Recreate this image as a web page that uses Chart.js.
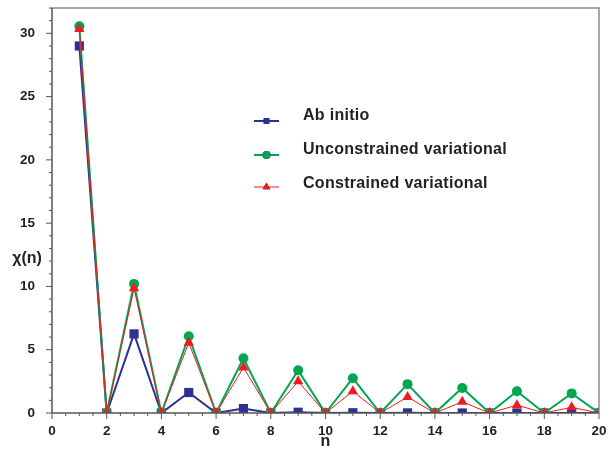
<!DOCTYPE html>
<html><head><meta charset="utf-8">
<script src="https://cdn.jsdelivr.net/npm/chart.js@4"></script>
<style>html,body{margin:0;padding:0;background:#fff}#wrap{width:613px;height:449px}</style>
</head><body><div id="wrap"><canvas id="c" width="613" height="449"></canvas></div>
<script>
const nValues = [1,2,3,4,5,6,7,8,9,10,11,12,13,14,15,16,17,18,19,20];
const abInitio = [29.0,0,6.25,0,1.62,0,0.35,0,0.06,0,0.02,0,0.01,0,0,0,0,0,0,0];
const unconstrained = [30.55,0,10.2,0,6.07,0,4.33,0,3.37,0,2.75,0,2.28,0,1.98,0,1.72,0,1.55,0];
const constrained = [30.35,0,9.85,0,5.55,0,3.6,0,2.5,0,1.72,0,1.26,0,0.88,0,0.62,0,0.45,0];
const seriesNames = ['Ab initio','Unconstrained variational','Constrained variational'];
const xTicks = [0,2,4,6,8,10,12,14,16,18,20];
const yTicks = [0,5,10,15,20,25,30];

const BLUE='#2e3192', GREEN='#00a651', RED='#ed1c24';
const FONT='"Liberation Sans", Arial, sans-serif';
function pts(arr){return nValues.map((n,i)=>({x:n,y:arr[i]}));}

const extras = {
  id:'extras',
  afterDraw(chart){
    const ctx=chart.ctx, a=chart.chartArea, xs=chart.scales.x, ys=chart.scales.y;
    ctx.save();
    ctx.strokeStyle='#8a8a8a'; ctx.lineWidth=1.5;
    ctx.beginPath(); ctx.moveTo(a.left,a.top); ctx.lineTo(a.right,a.top); ctx.lineTo(a.right,a.bottom); ctx.stroke();
    ctx.strokeStyle='#555'; ctx.lineWidth=1.5;
    ctx.beginPath(); ctx.moveTo(a.left,a.top); ctx.lineTo(a.left,a.bottom); ctx.lineTo(a.right,a.bottom); ctx.stroke();
    ctx.lineWidth=1;
    for(let v=0; v<=32; v++){
      const y=ys.getPixelForValue(v); const len = v%5===0?6:3;
      ctx.beginPath(); ctx.moveTo(a.left-len,y); ctx.lineTo(a.left,y); ctx.stroke();
    }
    for(let v=0; v<=20; v+=0.5){
      const x=xs.getPixelForValue(v); const len = v%2===0?6:3;
      ctx.beginPath(); ctx.moveTo(x,a.bottom); ctx.lineTo(x,a.bottom+len); ctx.stroke();
    }
    ctx.fillStyle='#222'; ctx.font='bold 16px '+FONT; ctx.textAlign='center'; ctx.textBaseline='middle';
    ctx.fillText('χ(n)', 27, 259);
    ctx.fillText('n', (a.left+a.right)/2, 442);
    const rows=[{t:116,l:121},{t:150,l:155},{t:184,l:187}];
    [0,1,2].forEach((di,k)=>{
      const ds=chart.data.datasets[di];
      ctx.strokeStyle=ds.borderColor; ctx.lineWidth=ds.borderWidth;
      ctx.beginPath(); ctx.moveTo(254,rows[k].l); ctx.lineTo(279,rows[k].l); ctx.stroke();
      Chart.helpers.drawPoint(ctx,{pointStyle:ds.pointStyle,radius:ds.legendRadius,borderWidth:0,rotation:0},266.5,rows[k].l);
      ctx.fillStyle=ds.backgroundColor; ctx.fill();
      ctx.fillStyle='#222'; ctx.font='bold 16px '+FONT; ctx.textAlign='left'; ctx.textBaseline='middle';
      ctx.letterSpacing='0.3px';
      ctx.fillText(ds.label,303,rows[k].t);
      ctx.letterSpacing='0px';
    });
    ctx.restore();
  }
};

new Chart(document.getElementById('c'),{
  type:'line',
  data:{datasets:[
    {label:seriesNames[0],data:pts(abInitio),borderColor:BLUE,backgroundColor:BLUE,borderWidth:2,pointStyle:'rect',pointRadius:6.5,pointBorderWidth:0,legendRadius:4,order:2},
    {label:seriesNames[1],data:pts(unconstrained),borderColor:GREEN,backgroundColor:GREEN,borderWidth:2,pointStyle:'circle',pointRadius:5,pointBorderWidth:0,legendRadius:4,order:1},
    {label:seriesNames[2],data:pts(constrained),borderColor:RED,backgroundColor:RED,borderWidth:1,pointStyle:'triangle',pointRadius:6,pointBorderWidth:0,legendRadius:4.5,order:0}
  ]},
  options:{
    responsive:false, animation:false,
    layout:{padding:{top:8,right:14,left:0,bottom:0}},
    plugins:{legend:{display:false},tooltip:{enabled:false}},
    elements:{line:{tension:0}},
    scales:{
      x:{type:'linear',min:0,max:20,
        afterFit(s){s.height=36;s.paddingLeft=0;s.paddingRight=0;},
        afterBuildTicks(s){s.ticks=xTicks.map(v=>({value:v}));},
        grid:{display:false},border:{display:false},
        ticks:{color:'#222',font:{family:FONT,weight:'bold',size:13.5},padding:2,maxRotation:0}},
      y:{type:'linear',min:0,max:32,
        afterFit(s){s.width=52;s.paddingTop=0;s.paddingBottom=0;},
        afterBuildTicks(s){s.ticks=yTicks.map(v=>({value:v}));},
        grid:{display:false},border:{display:false},
        ticks:{color:'#222',font:{family:FONT,weight:'bold',size:13.5},padding:9}}
    }
  },
  plugins:[extras]
});
</script></body></html>
